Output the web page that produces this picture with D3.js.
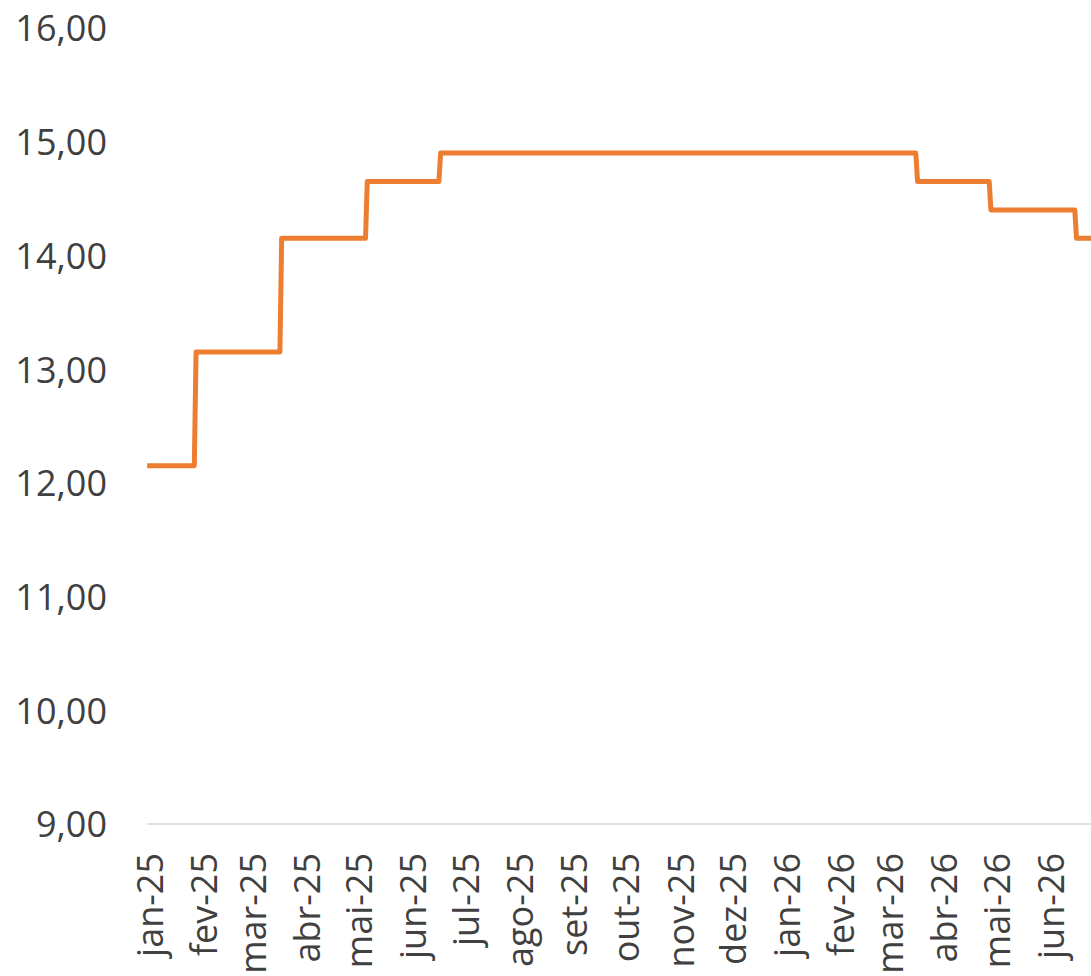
<!DOCTYPE html>
<html lang="pt">
  <head>
    <meta charset="UTF-8" />
    <title>CDI</title>
    <script src="https://d3js.org/d3.v7.min.js"></script>
    <style>
      body {
        margin: 0;
        background: #ffffff;
      }
      .chart text {
        font-family: "Open Sans", sans-serif;
        font-size: 36px;
        fill: #404040;
      }
    </style>
  </head>
  <body>
    <div class="chart"></div>

    <script>
      // rate path: each level with first and last day it holds
      var dates = [
        "2025-01-02", "2025-01-29",
        "2025-01-30", "2025-03-19",
        "2025-03-20", "2025-05-07",
        "2025-05-08", "2025-06-18",
        "2025-06-19", "2026-03-18",
        "2026-03-19", "2026-04-29",
        "2026-04-30", "2026-06-17",
        "2026-06-18", "2026-07-31"
      ];
      var rates = [
        12.15, 12.15,
        13.15, 13.15,
        14.15, 14.15,
        14.65, 14.65,
        14.9, 14.9,
        14.65, 14.65,
        14.4, 14.4,
        14.15, 14.15
      ];

      var tickMonths = [
        "2025-01-01", "2025-02-01", "2025-03-01", "2025-04-01", "2025-05-01", "2025-06-01",
        "2025-07-01", "2025-08-01", "2025-09-01", "2025-10-01", "2025-11-01", "2025-12-01",
        "2026-01-01", "2026-02-01", "2026-03-01", "2026-04-01", "2026-05-01", "2026-06-01"
      ];
      var tickLabels = [
        "jan-25", "fev-25", "mar-25", "abr-25", "mai-25", "jun-25",
        "jul-25", "ago-25", "set-25", "out-25", "nov-25", "dez-25",
        "jan-26", "fev-26", "mar-26", "abr-26", "mai-26", "jun-26"
      ];
      var yTicks = [9, 10, 11, 12, 13, 14, 15, 16];

      var width = 1091;
      var height = 976;

      var parse = d3.utcParse("%Y-%m-%d");
      var data = dates.map(function (d, i) {
        return { date: parse(d), value: rates[i] };
      });

      var svg = d3
        .select(".chart")
        .append("svg")
        .attr("width", width)
        .attr("height", height);

      // x: the visible frame cuts the axis on the right
      var xScale = d3
        .scaleUtc()
        .domain([parse("2025-01-01"), parse("2026-08-01")])
        .range([145.4, 1153.4]);

      var yScale = d3.scaleLinear().domain([9, 16]).range([824, 28]);

      var ptBR = d3.formatLocale({
        decimal: ",",
        thousands: ".",
        grouping: [3],
        currency: ["R$", ""]
      });

      var yAxis = d3
        .axisLeft(yScale)
        .tickValues(yTicks)
        .tickSize(0)
        .tickPadding(0)
        .tickFormat(ptBR.format(".2f"));

      svg
        .append("g")
        .attr("transform", "translate(107, 0)")
        .call(yAxis)
        .call((g) => g.select(".domain").remove())
        .selectAll("text")
        .attr("dy", "0.36em");

      // x axis baseline
      svg
        .append("line")
        .attr("x1", xScale(parse("2025-01-02")))
        .attr("x2", width)
        .attr("y1", yScale(9))
        .attr("y2", yScale(9))
        .attr("stroke", "#d9d9d9")
        .attr("stroke-width", 1.5);

      var xAxis = d3
        .axisBottom(xScale)
        .tickValues(tickMonths.map(parse))
        .tickSize(0)
        .tickFormat((d, i) => tickLabels[i]);

      svg
        .append("g")
        .attr("transform", `translate(0, ${yScale(9)})`)
        .call(xAxis)
        .call((g) => g.select(".domain").remove())
        .selectAll("text")
        .attr("transform", "rotate(-90)")
        .attr("text-anchor", "end")
        .attr("x", -29)
        .attr("y", 4)
        .attr("dy", "0.35em");

      svg
        .append("path")
        .datum(data)
        .attr("fill", "none")
        .attr("stroke", "#ed7d31")
        .attr("stroke-width", 5)
        .attr("stroke-linejoin", "round")
        .attr(
          "d",
          d3
            .line()
            .x((d) => xScale(d.date))
            .y((d) => yScale(d.value))
        );
    </script>
  </body>
</html>
